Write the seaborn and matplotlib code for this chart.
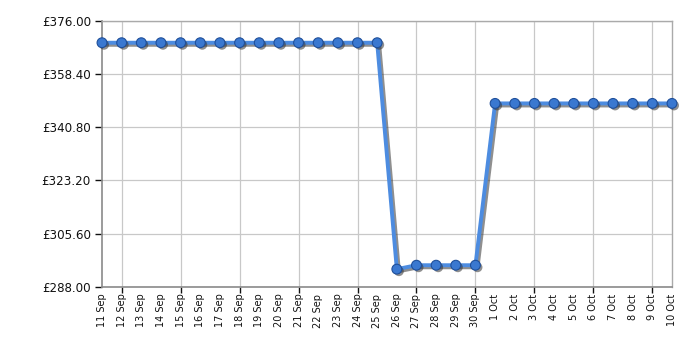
import matplotlib
matplotlib.use("Agg")
import matplotlib.pyplot as plt
import matplotlib.patheffects as pe
import seaborn as sns
import pandas as pd
import numpy as np

dates = ["11 Sep", "12 Sep", "13 Sep", "14 Sep", "15 Sep", "16 Sep", "17 Sep", "18 Sep",
         "19 Sep", "20 Sep", "21 Sep", "22 Sep", "23 Sep", "24 Sep", "25 Sep", "26 Sep",
         "27 Sep", "28 Sep", "29 Sep", "30 Sep", "1 Oct", "2 Oct", "3 Oct", "4 Oct",
         "5 Oct", "6 Oct", "7 Oct", "8 Oct", "9 Oct", "10 Oct"]
prices = [368.8] * 15 + [293.8, 295.1, 295.1, 295.1, 295.1] + [348.7] * 10
yticks = [288.00, 305.60, 323.20, 340.80, 358.40, 376.00]

df = pd.DataFrame({"idx": np.arange(len(dates)), "price": prices})

sns.set_theme(style="white")
plt.rcParams["font.family"] = ["DejaVu Sans"]

fig = plt.figure(figsize=(7, 3.5), dpi=100)
ax = fig.add_axes([0.1457, 0.181, 0.8143, 0.759])

sns.lineplot(data=df, x="idx", y="price", ax=ax, color="#4d8ce0", linewidth=2.8)
for line in ax.lines:
    line.set_path_effects([pe.SimpleLineShadow(offset=(1.5, -1.5), shadow_color="#444444", alpha=0.6),
                           pe.Normal()])
    line.set_zorder(5)

sns.scatterplot(data=df, x="idx", y="price", ax=ax, s=50, color="#3a78d0",
                edgecolor="#1f4f9a", linewidth=0.8, zorder=6, clip_on=False)
for coll in ax.collections:
    coll.set_path_effects([pe.SimplePatchShadow(offset=(1.5, -1.5), shadow_rgbFace="#333333", alpha=0.55),
                           pe.Normal()])

ax.set_xlim(0, len(dates) - 1)
ax.set_ylim(yticks[0], yticks[-1])
ax.set_yticks(yticks)
ax.set_yticklabels([f"£{v:.2f}" for v in yticks], fontsize=8.6, color="#111111")

ax.xaxis.remove_overlapping_locs = False
ax.set_xticks(np.arange(len(dates)))
ax.set_xticklabels(dates, rotation=90, fontsize=7, color="#111111")
ax.tick_params(axis="x", which="major", length=0, pad=5)
ax.set_xticks(np.arange(1, len(dates), 3), minor=True)
ax.tick_params(axis="x", which="minor", length=4, width=1, color="#111111", direction="out", bottom=True)
ax.tick_params(axis="y", which="major", length=5, width=1, color="#111111", direction="out", left=True, pad=3)

ax.grid(False)
ax.grid(True, axis="x", which="minor", color="#c8c8c8", linewidth=0.9)
ax.grid(True, axis="y", which="major", color="#c8c8c8", linewidth=0.9)
ax.set_axisbelow(True)

for s in ["left", "bottom"]:
    ax.spines[s].set_color("#8a8a8a")
    ax.spines[s].set_linewidth(1.2)
for s in ["top", "right"]:
    ax.spines[s].set_color("#aaaaaa")
    ax.spines[s].set_linewidth(1.0)

ax.set_xlabel("")
ax.set_ylabel("")
fig.savefig("out.png", dpi=100)
